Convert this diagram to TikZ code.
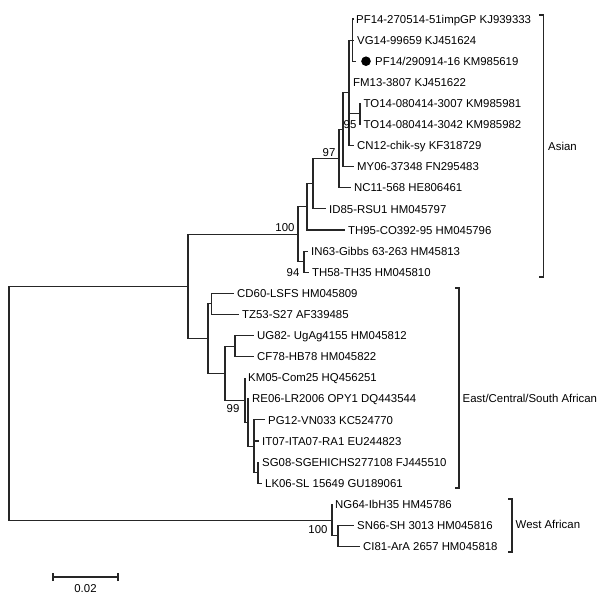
\documentclass[tikz,border=0pt]{standalone}
\usepackage{fontspec}
\setmainfont{Liberation Sans}
\begin{document}
\begin{tikzpicture}[x=1pt,y=-1pt,
  font=\fontsize{11.4pt}{13pt}\selectfont,
  leaf/.style={anchor=west, inner xsep=3pt, inner ysep=0pt, text height=8.2pt, text depth=0pt},
  boot/.style={inner sep=0pt, text height=8.2pt, text depth=0pt},
  clade/.style={anchor=west, inner sep=0pt, text height=8.2pt, text depth=0pt},
  edge/.style={draw=black!85, line width=1.05pt}]
\useasboundingbox (0,0) rectangle (600,595);
% internal nodes
\coordinate (root) at (9,403.25);
\coordinate (top) at (188,286.4);
\coordinate (A0) at (298,234.3);
\coordinate (A1) at (307,206.9);
\coordinate (A2) at (313,183.85);
\coordinate (A3) at (339,158.8);
\coordinate (A4) at (343,129.8);
\coordinate (A5) at (349,92.85);
\coordinate (A6) at (352.5,40.1);
\coordinate (TO) at (360,113.95);
\coordinate (IT) at (304,261.65);
\coordinate (EC) at (208,338.5);
\coordinate (CT) at (211.5,303.85);
\coordinate (L) at (225,373.1);
\coordinate (UC) at (235,346.05);
\coordinate (E1) at (245,400.1);
\coordinate (E2) at (248,422.5);
\coordinate (E3) at (254,446.3);
\coordinate (E5) at (258,472.65);
\coordinate (W) at (332,520.1);
\coordinate (SC) at (338,535.95);
% leaves
\node[leaf] (PF14a) at (353,19) {PF14-270514-51impGP KJ939333};
\node[leaf] (VG14) at (354,40.1) {VG14-99659 KJ451624};
\node[circle, fill=black, inner sep=0pt, minimum size=9.6pt] (dot) at (366,61.2) {};
\node[leaf] (PF14b) at (372,61.2) {PF14/290914-16 KM985619};
\node[leaf] (FM13) at (350,82.3) {FM13-3807 KJ451622};
\node[leaf] (TO1) at (360.5,103.4) {TO14-080414-3007 KM985981};
\node[leaf] (TO2) at (360.5,124.5) {TO14-080414-3042 KM985982};
\node[leaf] (CN12) at (354,145.6) {CN12-chik-sy KF318729};
\node[leaf] (MY06) at (354,166.7) {MY06-37348 FN295483};
\node[leaf] (NC11) at (351,187.8) {NC11-568 HE806461};
\node[leaf] (ID85) at (326,208.9) {ID85-RSU1 HM045797};
\node[leaf] (TH95) at (345,230) {TH95-CO392-95 HM045796};
\node[leaf] (IN63) at (308,251.1) {IN63-Gibbs 63-263 HM45813};
\node[leaf] (TH58) at (309,272.2) {TH58-TH35 HM045810};
\node[leaf] (CD60) at (234,293.3) {CD60-LSFS HM045809};
\node[leaf] (TZ53) at (239,314.4) {TZ53-S27 AF339485};
\node[leaf] (UG82) at (254,335.5) {UG82- UgAg4155 HM045812};
\node[leaf] (CF78) at (254,356.6) {CF78-HB78 HM045822};
\node[leaf] (KM05) at (245,377.7) {KM05-Com25 HQ456251};
\node[leaf] (RE06) at (249,398.8) {RE06-LR2006 OPY1 DQ443544};
\node[leaf] (PG12) at (265,419.9) {PG12-VN033 KC524770};
\node[leaf] (IT07) at (259,441) {IT07-ITA07-RA1 EU244823};
\node[leaf] (SG08) at (259,462.1) {SG08-SGEHICHS277108 FJ445510};
\node[leaf] (LK06) at (262,483.2) {LK06-SL 15649 GU189061};
\node[leaf] (NG64) at (332,504.3) {NG64-IbH35 HM45786};
\node[leaf] (SN66) at (354,525.4) {SN66-SH 3013 HM045816};
\node[leaf] (CI81) at (360,546.5) {CI81-ArA 2657 HM045818};
% edges
\draw[edge] (root) |- (top);
\draw[edge] (root) |- (W);
\draw[edge] (top) |- (A0);
\draw[edge] (top) |- (EC);
\draw[edge] (A0) |- (A1);
\draw[edge] (A0) |- (IT);
\draw[edge] (A1) |- (A2);
\draw[edge] (A1) |- (TH95.west);
\draw[edge] (A2) |- (A3);
\draw[edge] (A2) |- (ID85.west);
\draw[edge] (A3) |- (A4);
\draw[edge] (A3) |- (NC11.west);
\draw[edge] (A4) |- (A5);
\draw[edge] (A4) |- (MY06.west);
\draw[edge] (A5) |- (A6);
\draw[edge] (A5) |- (FM13.west);
\draw[edge] (A5) |- (TO);
\draw[edge] (A5) |- (CN12.west);
\draw[edge] (A6) |- (PF14a.west);
\draw[edge] (A6) |- (VG14.west);
\draw[edge] (A6) |- ([xshift=-5pt]dot.west);
\draw[edge] (TO) |- (TO1.west);
\draw[edge] (TO) |- (TO2.west);
\draw[edge] (IT) |- (IN63.west);
\draw[edge] (IT) |- (TH58.west);
\draw[edge] (EC) |- (CT);
\draw[edge] (EC) |- (L);
\draw[edge] (CT) |- (CD60.west);
\draw[edge] (CT) |- (TZ53.west);
\draw[edge] (L) |- (UC);
\draw[edge] (L) |- (E1);
\draw[edge] (UC) |- (UG82.west);
\draw[edge] (UC) |- (CF78.west);
\draw[edge] (E1) |- (KM05.west);
\draw[edge] (E1) |- (E2);
\draw[edge] (E2) |- (RE06.west);
\draw[edge] (E2) |- (E3);
\draw[edge] (E3) |- (PG12.west);
\draw[edge] (E3) |- (IT07.west);
\draw[edge] (E3) |- (E5);
\draw[edge] (E5) |- (SG08.west);
\draw[edge] (E5) |- (LK06.west);
\draw[edge] (W) |- (NG64.west);
\draw[edge] (W) |- (SC);
\draw[edge] (SC) |- (SN66.west);
\draw[edge] (SC) |- (CI81.west);
% bootstrap values
\node[boot] (b1) at (285,227) {100};
\node[boot] (b2) at (329,152) {97};
\node[boot] (b3) at (350,124) {95};
\node[boot] (b4) at (293,272) {94};
\node[boot] (b5) at (233,408) {99};
\node[boot] (b6) at (318,529) {100};
% clade brackets
\coordinate (aT) at (539,15); \coordinate (aB) at (539,277);
\draw[edge] (aT) -- ++(4.5,0) |- (aB);
\node[clade] (asian) at (548,146) {Asian};
\coordinate (eT) at (455,288); \coordinate (eB) at (455,488);
\draw[edge] (eT) -- ++(4,0) |- (eB);
\node[clade] (ecsa) at (462.5,398) {East/Central/South African};
\coordinate (wT) at (508,499); \coordinate (wB) at (508,552);
\draw[edge] (wT) -- ++(4,0) |- (wB);
\node[clade] (west) at (515.5,524) {West African};
% scale bar
\coordinate (s1) at (53,577); \coordinate (s2) at (118,577);
\draw[edge] (s1) -- (s2);
\draw[edge] ([yshift=-4pt]s1) -- ([yshift=4pt]s1);
\draw[edge] ([yshift=-4pt]s2) -- ([yshift=4pt]s2);
\node[boot] (scale) at (85.5,588) {0.02};
\end{tikzpicture}
\end{document}
